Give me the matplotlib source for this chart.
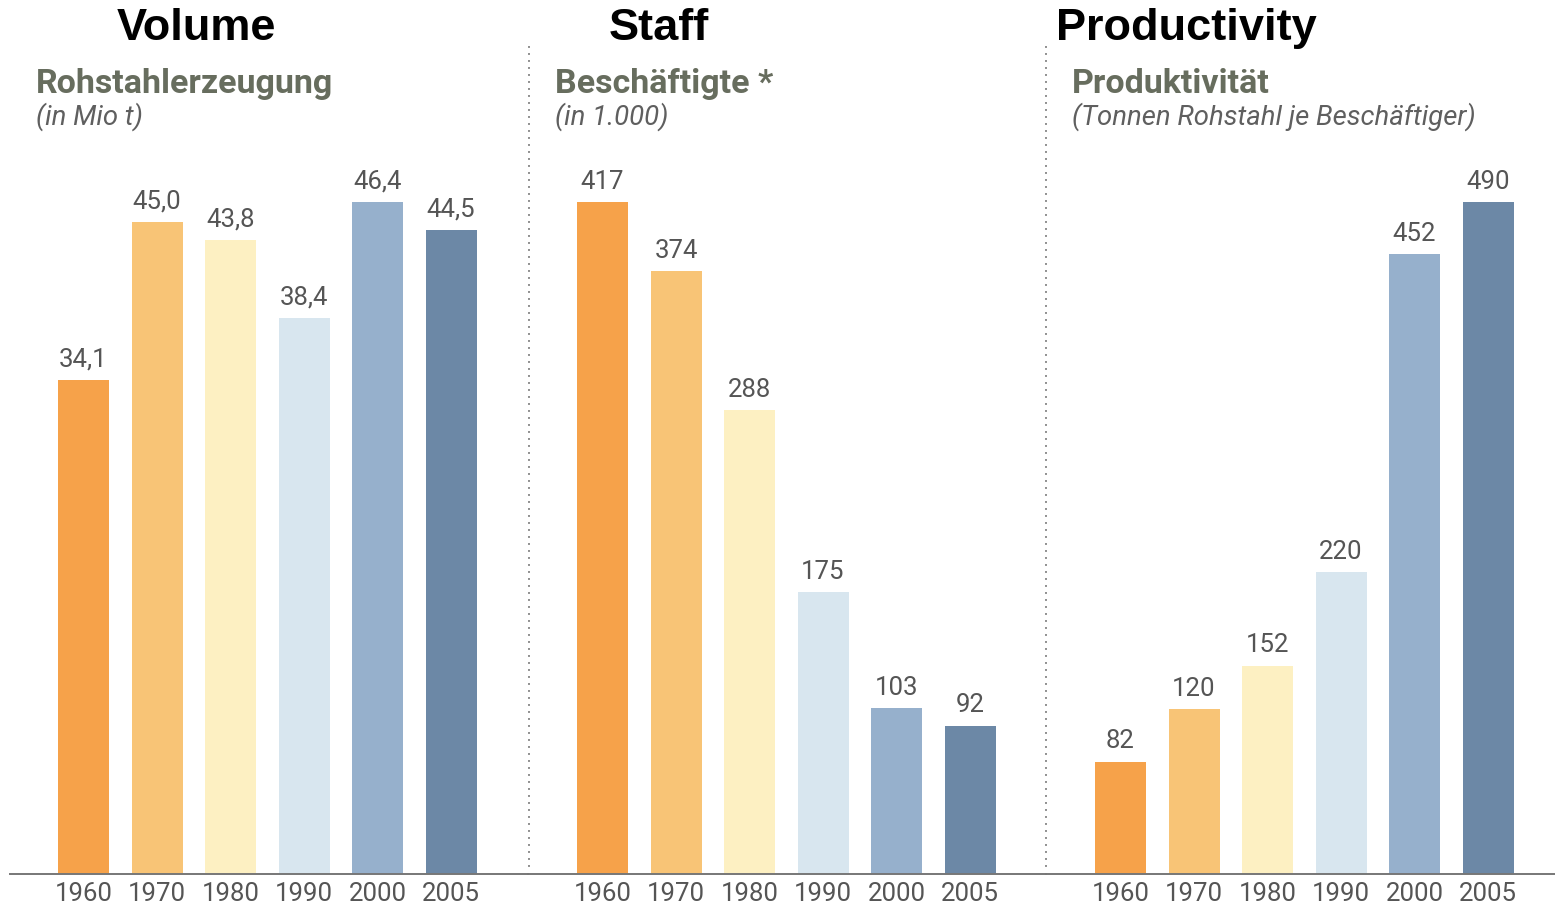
import matplotlib
matplotlib.use("Agg")
import matplotlib.pyplot as plt
from matplotlib.lines import Line2D
from matplotlib import font_manager

# --- data ---------------------------------------------------------------
years = ["1960", "1970", "1980", "1990", "2000", "2005"]
volume = [34.1, 45.0, 43.8, 38.4, 46.4, 44.5]          # Mio t
staff = [417, 374, 288, 175, 103, 92]                  # in 1.000
productivity = [82, 120, 152, 220, 452, 490]           # t per employee

volume_labels = ["34,1", "45,0", "43,8", "38,4", "46,4", "44,5"]
staff_labels = [str(v) for v in staff]
productivity_labels = [str(v) for v in productivity]

titles = ["Volume", "Staff", "Productivity"]
headings = ["Rohstahlerzeugung", "Beschäftigte *", "Produktivität"]
units = ["(in Mio t)", "(in 1.000)", "(Tonnen Rohstahl je Beschäftiger)"]

bar_colors = ["#F6A24A", "#F8C476", "#FDF0C2", "#D8E6EF", "#96B0CC", "#6C88A6"]

# --- fonts ----------------------------------------------------------------
installed = {f.name for f in font_manager.fontManager.ttflist}
narrow = next((f for f in ["Liberation Sans Narrow", "DejaVu Sans Condensed",
                           "Roboto", "DejaVu Sans"] if f in installed), "DejaVu Sans")
title_font = "Liberation Sans" if "Liberation Sans" in installed else "DejaVu Sans"

W, H = 1555, 906
DPI = 100
fig = plt.figure(figsize=(W / DPI, H / DPI), dpi=DPI)
fig.patch.set_facecolor("white")


def px_x(x):
    return x / W


def px_y(y):
    return 1 - y / H


baseline = 874
top = 202
panels = [
    # (left px, right px, first bar centre px, data, labels)
    (10, 528, 83.5, volume, volume_labels),
    (528, 1046, 602.5, staff, staff_labels),
    (1046, 1555, 1120.5, productivity, productivity_labels),
]
step = 73.5
bar_w = 51 / step
label_size = 18.5

for left, right, c0, values, labels in panels:
    ax = fig.add_axes([px_x(left), px_y(baseline), px_x(right - left),
                       (baseline - top) / H])
    xs = list(range(len(values)))
    ax.bar(xs, values, width=bar_w, color=bar_colors, linewidth=0, zorder=2)
    ax.set_xlim(-(c0 - left) / step, (right - c0) / step)
    ax.set_ylim(0, max(values))
    for x, v, lab in zip(xs, values, labels):
        ax.annotate(lab, (x, v), xytext=(0, 6), textcoords="offset points",
                    ha="center", va="bottom", fontsize=label_size,
                    color="#555555", family=narrow, annotation_clip=False)
    ax.set_xticks(xs)
    ax.set_xticklabels(years, fontsize=label_size, color="#555555",
                       family=narrow)
    ax.tick_params(axis="x", length=0, pad=6)
    ax.set_yticks([])
    for s in ["left", "right", "top"]:
        ax.spines[s].set_visible(False)
    ax.spines["bottom"].set_color("#777777")
    ax.spines["bottom"].set_linewidth(1.4)
    ax.patch.set_alpha(0)

# dotted separators between the panels
for xsep in (529, 1046):
    fig.add_artist(Line2D([px_x(xsep), px_x(xsep)], [px_y(46), px_y(872)],
                          transform=fig.transFigure, color="#8f8f8f",
                          linewidth=1.4, linestyle=(0, (1, 2.6))))

# panel titles
title_pos = [196, 659, 1186]
for t, cx in zip(titles, title_pos):
    fig.text(px_x(cx), px_y(40), t, ha="center", va="baseline", fontsize=32.5,
             fontweight="bold", color="black", family=title_font)

# headings and units
head_x = [36, 555, 1072]
for h, u, hx in zip(headings, units, head_x):
    fig.text(px_x(hx), px_y(93), h, ha="left", va="baseline", fontsize=24.5,
             fontweight="bold", color="#676d5e", family=narrow)
    fig.text(px_x(hx), px_y(125), u, ha="left", va="baseline", fontsize=19.8,
             style="italic", color="#5f5f5f", family=narrow)

fig.savefig("out.png", dpi=DPI, facecolor="white")
